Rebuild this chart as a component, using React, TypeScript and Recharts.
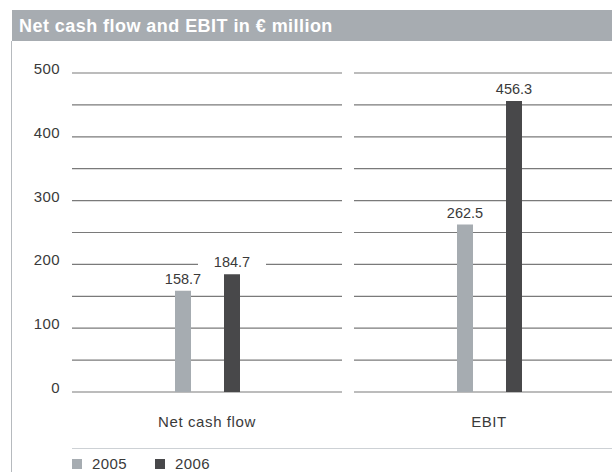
import { BarChart, Bar, XAxis, YAxis, CartesianGrid, LabelList, Legend } from 'recharts';

const categories = ['Net cash flow', 'EBIT'];
const values2005 = [158.7, 262.5];
const values2006 = [184.7, 456.3];
const seriesNames = ['2005', '2006'];
const yTicks = [0, 50, 100, 150, 200, 250, 300, 350, 400, 450, 500];

const FONT = '"Liberation Sans", Arial, Helvetica, sans-serif';
const LIGHT = '#a6acb1';
const DARK = '#48484a';
const GRID = '#7a7a7a';
const TEXT = '#3a3a3a';

const data = categories.map((name, i) => ({
  name,
  y2005: values2005[i],
  y2006: values2006[i]
}));

// horizontal grid split into one segment per category, with a gap in between
const renderGridLine = (props: any) => {
  const { x1, x2, y1, key } = props;
  const mid = (x1 + x2) / 2;
  return (
    <g key={key}>
      <line x1={x1 + 6} x2={mid - 6} y1={y1} y2={y1} stroke={GRID} strokeWidth={1.2} />
      <line x1={mid + 6} x2={x2 - 6} y1={y1} y2={y1} stroke={GRID} strokeWidth={1.2} />
    </g>
  );
};

const YTick = ({ x, y, payload }: any) => {
  if (payload.value % 100 !== 0) return <g />;
  return (
    <text x={x} y={y + 1} textAnchor="end" fontSize={15} fill={TEXT} fontFamily={FONT} letterSpacing={0.4}>
      {payload.value}
    </text>
  );
};

const XTick = ({ x, y, payload }: any) => (
  <text x={x} y={y + 34.5} textAnchor="middle" fontSize={15} fill={TEXT} fontFamily={FONT} letterSpacing={0.6}>
    {payload.value}
  </text>
);

// value label on a white patch, so the grid line behind it is broken
const ValueLabel = ({ x, y, width, value }: any) => {
  const cx = x + width / 2;
  return (
    <g>
      <rect x={cx - 34} y={y - 20} width={68} height={16} fill="#fff" />
      <text x={cx} y={y - 7} textAnchor="middle" fontSize={14.5} fill={TEXT} fontFamily={FONT}>
        {Number(value).toFixed(1)}
      </text>
    </g>
  );
};

const renderLegend = (props: any) => (
  <div
    style={{
      borderTop: '1px solid #cdd1d5',
      width: 560,
      paddingTop: 10,
      display: 'flex',
      fontFamily: FONT
    }}
  >
    {(props.payload || []).map((entry: any) => (
      <div key={entry.value} style={{ display: 'flex', alignItems: 'flex-start', width: 83, height: 10 }}>
        <span style={{ width: 10, height: 10, background: entry.color, marginRight: 10 }} />
        <span style={{ fontSize: 15, lineHeight: '10px', color: TEXT, letterSpacing: 0.4 }}>{entry.value}</span>
      </div>
    ))}
  </div>
);

export default function App() {
  return (
    <div
      style={{
        position: 'fixed',
        left: 0,
        top: 0,
        width: 612,
        height: 472,
        overflow: 'hidden',
        background: '#fff'
      }}
    >
      <div
        style={{
          position: 'absolute',
          left: 12,
          top: 10,
          width: 600,
          height: 31,
          background: '#a7acb1',
          color: '#fff',
          fontFamily: FONT,
          fontWeight: 'bold',
          fontSize: 18,
          letterSpacing: 0.45,
          lineHeight: '32px',
          paddingLeft: 7,
          boxSizing: 'border-box',
          whiteSpace: 'nowrap'
        }}
      >
        Net cash flow and EBIT in € million
      </div>
      <div style={{ position: 'absolute', left: 11, top: 41, width: 1, height: 431, background: '#b6babe' }} />
      <div style={{ position: 'absolute', left: 0, top: 0 }}>
        <BarChart
          width={640}
          height={472}
          data={data}
          margin={{ top: 73, right: 10, bottom: 40, left: 12 }}
          barSize={16}
          barGap={33}
        >
          <CartesianGrid vertical={false} horizontal={renderGridLine} />
          <XAxis
            dataKey="name"
            axisLine={false}
            tickLine={false}
            tickSize={0}
            tickMargin={0}
            height={40}
            tick={<XTick />}
          />
          <YAxis
            domain={[0, 500]}
            ticks={yTicks}
            axisLine={false}
            tickLine={false}
            tickSize={0}
            tickMargin={6}
            width={54}
            interval={0}
            tick={<YTick />}
          />
          <Legend
            layout="vertical"
            verticalAlign="middle"
            align="center"
            wrapperStyle={{ left: 72, top: 448, width: 560 }}
            content={renderLegend}
          />
          <Bar dataKey="y2005" name={seriesNames[0]} fill={LIGHT} isAnimationActive={false}>
            <LabelList dataKey="y2005" content={<ValueLabel />} />
          </Bar>
          <Bar dataKey="y2006" name={seriesNames[1]} fill={DARK} isAnimationActive={false}>
            <LabelList dataKey="y2006" content={<ValueLabel />} />
          </Bar>
        </BarChart>
      </div>
    </div>
  );
}
